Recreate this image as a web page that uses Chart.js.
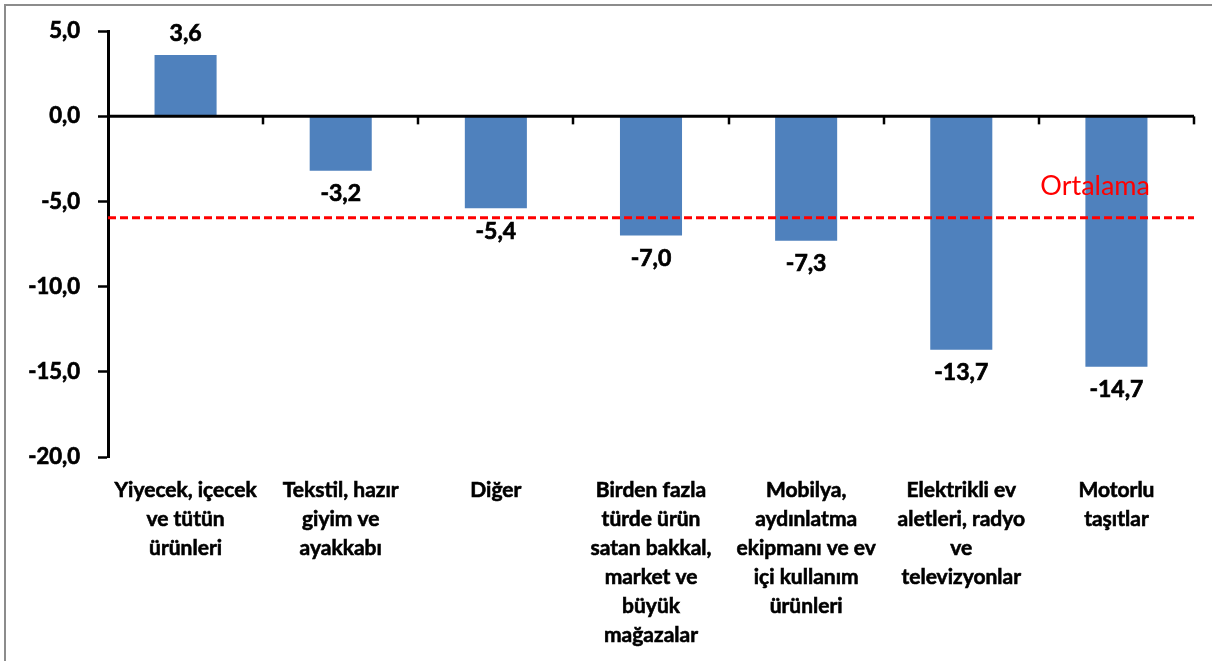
<!DOCTYPE html>
<html>
<head>
<meta charset="utf-8">
<script src="https://cdn.jsdelivr.net/npm/chart.js@4.4.0/dist/chart.umd.min.js"></script>
<style>
  html, body { margin: 0; padding: 0; background: #fff; overflow: hidden; }
  #frame {
    position: absolute; left: 4px; top: 4px;
    width: 1240px; height: 700px;
    border: 2px solid #8c8c8c;
  }
  #wrap { position: absolute; left: 0; top: 0; width: 1212px; height: 661px; }
</style>
</head>
<body>
<div id="frame"></div>
<div id="wrap"><canvas id="chart"></canvas></div>
<script>
const categories = [
  ["Yiyecek, içecek", "ve tütün", "ürünleri"],
  ["Tekstil, hazır", "giyim ve", "ayakkabı"],
  ["Diğer"],
  ["Birden fazla", "türde ürün", "satan bakkal,", "market ve", "büyük", "mağazalar"],
  ["Mobilya,", "aydınlatma", "ekipmanı ve ev", "içi kullanım", "ürünleri"],
  ["Elektrikli ev", "aletleri, radyo", "ve", "televizyonlar"],
  ["Motorlu", "taşıtlar"],
];
const values = [3.6, -3.2, -5.4, -7.0, -7.3, -13.7, -14.7];
const ortalama = -5.95;
const ortalamaLabel = "Ortalama";
const yTicks = [5, 0, -5, -10, -15, -20];

const barColor = "#4f81bd";
const fontFamily = "Lato, 'Open Sans', sans-serif";

function fmt(v) {
  return v.toFixed(1).replace(".", ",");
}

// zero line ticks, dashed average line, value labels
const extras = {
  id: "extras",
  afterDatasetsDraw(chart) {
    const ctx = chart.ctx;
    const y = chart.scales.y;
    const area = chart.chartArea;
    const y0 = y.getPixelForValue(0);

    ctx.save();
    // x axis line at zero
    ctx.strokeStyle = "#000";
    ctx.lineWidth = 3;
    ctx.beginPath();
    ctx.moveTo(area.left, y0);
    ctx.lineTo(area.right, y0);
    ctx.stroke();
    // category boundary ticks
    ctx.lineWidth = 2.5;
    const step = (area.right - area.left) / categories.length;
    for (let i = 1; i <= categories.length; i++) {
      const px = Math.round(area.left + i * step);
      ctx.beginPath();
      ctx.moveTo(px, y0);
      ctx.lineTo(px, y0 + 8);
      ctx.stroke();
    }

    // average
    const ya = y.getPixelForValue(ortalama);
    ctx.strokeStyle = "#ff0000";
    ctx.lineWidth = 3;
    ctx.setLineDash([8, 4]);
    ctx.beginPath();
    ctx.moveTo(area.left, ya);
    ctx.lineTo(area.right, ya);
    ctx.stroke();
    ctx.setLineDash([]);
    ctx.fillStyle = "#ff0000";
    ctx.font = "27px " + fontFamily;
    ctx.textAlign = "right";
    ctx.textBaseline = "middle";
    ctx.fillText(ortalamaLabel, area.right - 44, ya - 31);

    // value labels
    const meta = chart.getDatasetMeta(0);
    ctx.fillStyle = "#000";
    ctx.strokeStyle = "#000";
    ctx.lineWidth = 0.7;
    ctx.font = "bold 23px " + fontFamily;
    ctx.textAlign = "center";
    meta.data.forEach((bar, i) => {
      const v = values[i];
      const ty = v >= 0 ? bar.y - 21 : bar.y + 23;
      ctx.fillText(fmt(v), bar.x, ty);
      ctx.strokeText(fmt(v), bar.x, ty);
    });
    ctx.restore();
  }
};

new Chart(document.getElementById("chart"), {
  type: "bar",
  data: {
    labels: categories,
    datasets: [{
      data: values,
      backgroundColor: barColor,
      borderWidth: 0,
      categoryPercentage: 1.0,
      barPercentage: 0.4,
    }]
  },
  options: {
    responsive: true,
    maintainAspectRatio: false,
    animation: false,
    layout: { padding: { left: 0, right: 18, top: 31, bottom: 0 } },
    plugins: {
      legend: { display: false },
      tooltip: { enabled: false },
    },
    scales: {
      x: {
        grid: { display: false, drawTicks: false },
        border: { display: false },
        ticks: {
          color: "#000",
          font: { family: fontFamily, size: 21, weight: "bold", lineHeight: 1.38 },
          textStrokeColor: "#000",
          textStrokeWidth: 0.6,
          padding: 19,
          maxRotation: 0,
          autoSkip: false,
        },
        afterFit(scale) { scale.height = 204; },
      },
      y: {
        min: yTicks[yTicks.length - 1],
        max: yTicks[0],
        afterBuildTicks(scale) { scale.ticks = yTicks.map(v => ({ value: v })); },
        grid: {
          drawOnChartArea: false,
          drawTicks: true,
          tickLength: 10,
          tickColor: "#000",
          tickWidth: 2.5,
        },
        border: { display: true, color: "#000", width: 3 },
        ticks: {
          color: "#000",
          font: { family: fontFamily, size: 22, weight: "bold" },
          textStrokeColor: "#000",
          textStrokeWidth: 0.7,
          padding: 18,
          callback: v => fmt(v),
        },
        afterFit(scale) { scale.width = 108; },
      }
    }
  },
  plugins: [extras]
});
</script>
</body>
</html>
